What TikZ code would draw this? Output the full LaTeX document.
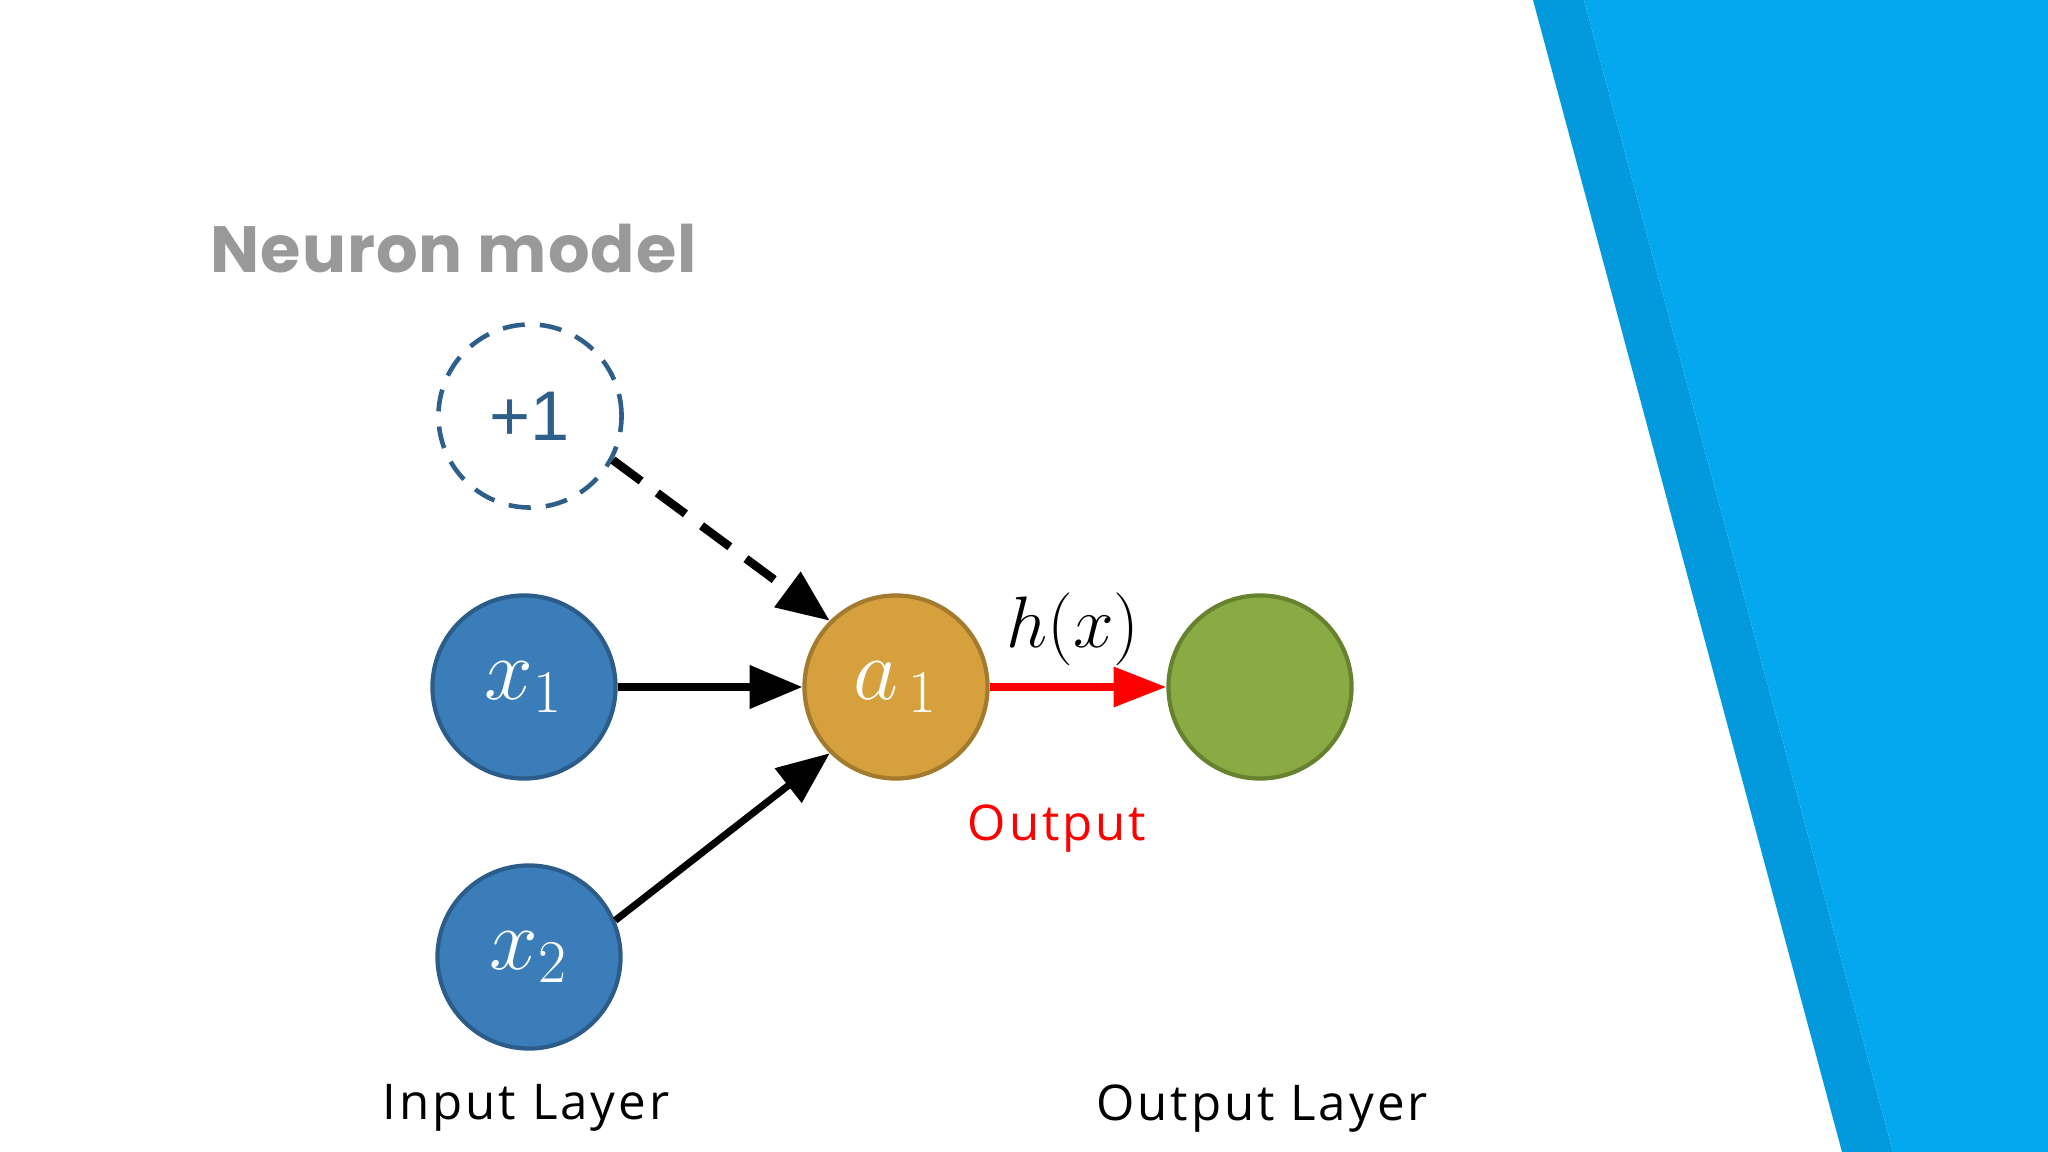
\documentclass[tikz,border=0pt]{standalone}
\usepackage{fontspec}
\setmainfont{Open Sans}
\newfontfamily\labelfont{Open Sans}[LetterSpace=6]
\newfontfamily\titlefont{Poppins}[LetterSpace=1.5]
\newfontfamily\arialfont{Liberation Sans}
\usetikzlibrary{arrows.meta}
\definecolor{banddark}{HTML}{0399DD}
\definecolor{bandlight}{HTML}{04A8EE}
\definecolor{inblue}{HTML}{3A7DB8}
\definecolor{inblueedge}{HTML}{2C5D8A}
\definecolor{biasblue}{HTML}{2D5F8A}
\definecolor{hidfill}{HTML}{D6A03C}
\definecolor{hidedge}{HTML}{A47A2E}
\definecolor{outfill}{HTML}{8AAA44}
\definecolor{outedge}{HTML}{66822F}
\definecolor{titlegray}{HTML}{999999}
\definecolor{outred}{HTML}{FF0000}
\begin{document}
\begin{tikzpicture}[x=0.01cm,y=-0.01cm,
  neuron/.style={circle,minimum size=1.83cm,inner sep=0pt,line width=1.2pt,text=white,
    font=\fontsize{23}{25}\selectfont},
  layerlabel/.style={anchor=base,font=\labelfont\fontsize{14}{16}\selectfont},
  conn/.style={line width=2pt,-{Triangle[length=15pt,width=12pt]}},
  outconn/.style={line width=2.2pt,draw=outred,-{Triangle[length=15pt,width=11pt]}}]
\fill[white] (0,0) rectangle (2048,1152);
\useasboundingbox (0,0) rectangle (2048,1152);
% background band
\fill[banddark] (1533,0) -- (1584,0) -- (1893,1152) -- (1842,1152) -- cycle;
\fill[bandlight] (1584,0) -- (2048,0) -- (2048,1152) -- (1893,1152) -- cycle;
% title
\node[anchor=base west,text=titlegray,inner sep=0pt,font=\titlefont\bfseries\fontsize{18.6}{22}\selectfont] (title) at (210,273) {Neuron model};
% neurons
\node[neuron,draw=biasblue,dash pattern=on 6.3pt off 4.3pt,line width=1.3pt,text=biasblue,font=\arialfont\fontsize{20}{22}\selectfont] (bias) at (530,416) {+1};
\node[neuron,draw=inblueedge,fill=inblue] (x1) at (524,687) {$x_1$};
\node[neuron,draw=inblueedge,fill=inblue] (x2) at (529,957) {$x_2$};
\node[neuron,draw=hidedge,fill=hidfill] (a1) at (896,687) {$a_{\,1}$};
\node[neuron,draw=outedge,fill=outfill] (out) at (1260,687) {};
% connectors
\draw[conn,line width=2.4pt,dash pattern=on 10pt off 5.7pt] (bias.-28) -- (a1.135);
\draw[conn] (x1) -- (a1);
\draw[conn] (x2.23) -- (a1.-135);
\draw[outconn] (a1) -- (out);
% labels
\node[anchor=base,inner sep=0pt,font=\fontsize{21}{24}\selectfont] (hx) at (1073,647) {$h(x)$};
\node[layerlabel,text=outred,inner sep=0pt] (outlbl) at (1057,840) {Output};
\node[layerlabel,inner sep=0pt] (inlayer) at (526,1119) {Input Layer};
\node[layerlabel,inner sep=0pt] (outlayer) at (1262,1120) {Output Layer};
\end{tikzpicture}
\end{document}
